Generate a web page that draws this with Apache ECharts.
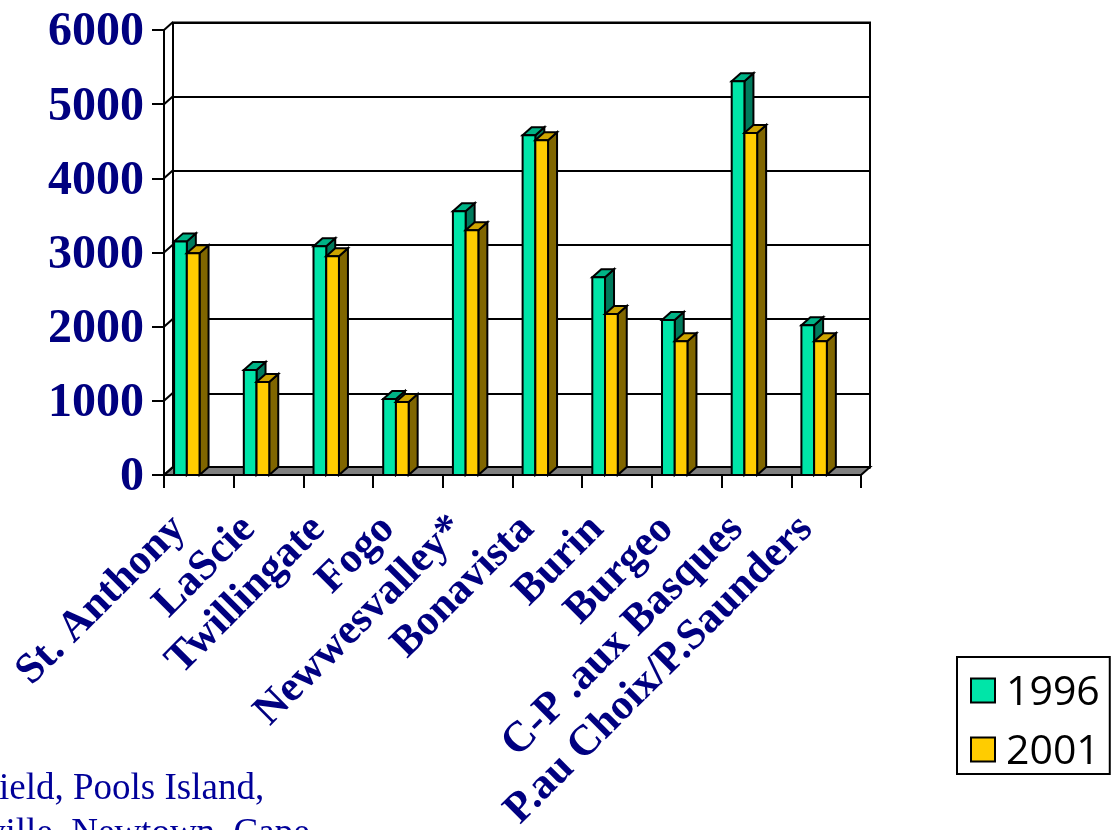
<!DOCTYPE html>
<html>
<head>
<meta charset="utf-8">
<style>html,body{margin:0;padding:0;background:#fff;overflow:hidden}#c{width:1112px;height:830px}</style>
<script src="https://cdn.jsdelivr.net/npm/echarts@6/dist/echarts.min.js"></script>
</head>
<body>
<div id="c"></div>
<script>
const categories = ['St. Anthony','LaScie','Twillingate','Fogo','Newwesvalley*','Bonavista','Burin','Burgeo','C-P .aux Basques','P.au Choix/P.Saunders'];
const values1996 = [3150,1415,3085,1025,3555,4580,2665,2090,5310,2020];
const values2001 = [2990,1255,2950,985,3300,4515,2170,1805,4610,1805];
const yearNames = ['1996','2001'];
const levels = [0,1000,2000,3000,4000,5000,6000];
const footnoteLines = ['ield, Pools Island,','ville, Newtown, Cape'];

const NAVY = '#000080';
const LINE = 2;
const DX = 9, DY = 8;          // depth of the pseudo-3D box
const LEFT_FRAC = 0.145, BAR_FRAC = 0.1825;  // bar placement within a category band

function face(points, fill) {
  return { type: 'polygon', shape: { points }, style: { fill, stroke: '#000', lineWidth: LINE, lineJoin: 'miter' } };
}
function barRenderer(slot, front, top, side) {
  return function (params, api) {
    const i = api.value(0);
    const band = api.size([1, 0])[0];
    const c = api.coord([i, api.value(1)]);
    const base = api.coord([i, 0]);
    const x0 = c[0] - band / 2 + band * (LEFT_FRAC + slot * BAR_FRAC);
    const x1 = x0 + band * BAR_FRAC;
    const y1 = c[1], y0 = base[1];
    return { type: 'group', children: [
      face([[x1,y1],[x1+DX,y1-DY],[x1+DX,y0-DY],[x1,y0]], side),
      face([[x0,y1],[x0+DX,y1-DY],[x1+DX,y1-DY],[x1,y1]], top),
      face([[x0,y1],[x1,y1],[x1,y0],[x0,y0]], front)
    ]};
  };
}
function series3d(name, values, slot, front, top, side) {
  return { type: 'custom', name, xAxisIndex: 0, yAxisIndex: 0, z: 5,
    itemStyle: { color: front, borderColor: '#000', borderWidth: LINE },
    encode: { x: 0, y: 1 }, clip: false,
    data: values.map((v, i) => [i, v]),
    renderItem: barRenderer(slot, front, top, side) };
}

const chart = echarts.init(document.getElementById('c'), null, { renderer: 'canvas' });
chart.setOption({
  animation: false,
  backgroundColor: '#fff',
  grid: [
    { left: 164, top: 30, width: 697, height: 445, outerBoundsMode: 'none' },
    { left: 173, top: 22.5, width: 697, height: 445, outerBoundsMode: 'none', show: true, borderColor: '#000', borderWidth: LINE, backgroundColor: 'transparent' }
  ],
  xAxis: [
    { type: 'category', gridIndex: 0, data: categories, boundaryGap: true,
      axisLine: { show: true, onZero: false, lineStyle: { color: '#000', width: LINE } },
      axisTick: { show: true, length: 13, interval: 0, lineStyle: { color: '#000', width: LINE } },
      axisLabel: { interval: 0, rotate: 45, margin: 28, hideOverlap: false, color: NAVY,
        padding: [0, 28, 0, 0],
        fontFamily: 'Liberation Serif', fontWeight: 'bold', fontSize: 43 } },
    { type: 'category', gridIndex: 1, data: categories, show: false }
  ],
  yAxis: [
    { type: 'value', gridIndex: 0, min: 0, max: 6000, interval: 1000,
      splitLine: { show: false },
      axisLine: { show: true, lineStyle: { color: '#000', width: LINE } },
      axisTick: { show: true, length: 12, lineStyle: { color: '#000', width: LINE } },
      axisLabel: { margin: 20, formatter: v => '{n|' + v + '}',
        rich: { n: { color: NAVY, padding: [6, 0, 0, 0], fontFamily: 'Liberation Serif', fontWeight: 'bold', fontSize: 48 } } } },
    { type: 'value', gridIndex: 1, min: 0, max: 6000, interval: 1000,
      axisLabel: { show: false }, axisTick: { show: false }, axisLine: { show: false },
      splitLine: { show: true, lineStyle: { color: '#000', width: LINE } } }
  ],
  legend: {
    orient: 'vertical', left: 957, top: 657, padding: [16, 10, 1, 13],
    itemWidth: 24, itemHeight: 24, itemGap: 18,
    backgroundColor: '#fff', borderColor: '#000', borderWidth: LINE,
    icon: 'rect',
    data: yearNames,
    formatter: '{t|{name}}',
    textStyle: { color: '#000', rich: { t: { color: '#000', fontFamily: 'Open Sans', fontSize: 41, padding: [6, 0, 0, 6] } } }
  },
  series: [
    // floor between the front axis and the back wall
    { type: 'custom', silent: true, xAxisIndex: 0, yAxisIndex: 0, z: 3, clip: false,
      encode: { x: 0, y: 1 }, data: [[0, 0]],
      renderItem(params, api) {
        const band = api.size([1, 0])[0];
        const a = api.coord([0, 0]);
        const l = a[0] - band / 2, r = l + band * categories.length, y = a[1];
        return face([[l,y],[l+DX,y-DY],[r+DX,y-DY],[r,y]], '#808080');
      } },
    // slanted links from each front tick to its back-wall gridline
    { type: 'custom', silent: true, xAxisIndex: 0, yAxisIndex: 0, z: 3, clip: false,
      encode: { x: 0, y: 1 }, data: levels.map(v => [0, v]),
      renderItem(params, api) {
        const band = api.size([1, 0])[0];
        const p = api.coord([0, api.value(1)]);
        const l = p[0] - band / 2;
        return { type: 'line', shape: { x1: l, y1: p[1], x2: l + DX, y2: p[1] - DY },
          style: { stroke: '#000', lineWidth: LINE } };
      } },
    series3d(yearNames[0], values1996, 0, '#00E5A8', '#00B386', '#007A5C'),
    series3d(yearNames[1], values2001, 1, '#FFCC00', '#CCA300', '#806600')
  ],
  graphic: footnoteLines.map((text, i) => ({
    type: 'text', left: i === 0 ? -1 : -13, top: 771 + i * 45, silent: true,
    style: { text, fill: '#000099', font: '37px "Liberation Serif"' }
  }))
});
</script>
</body>
</html>
